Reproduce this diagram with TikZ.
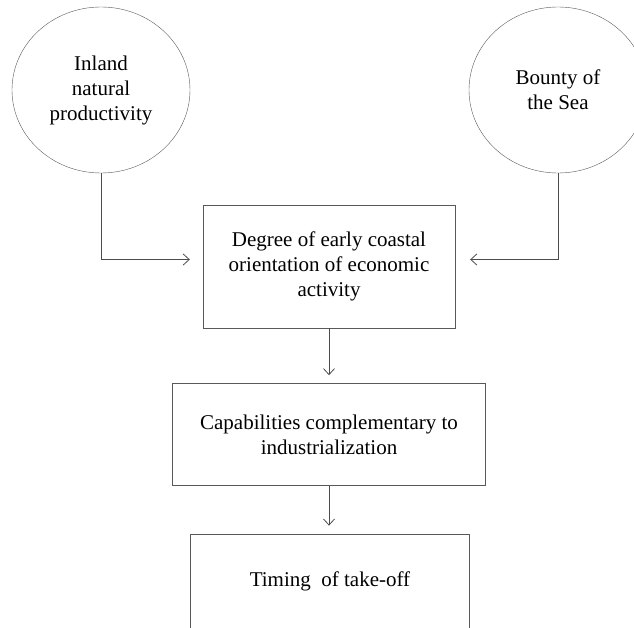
\documentclass[tikz,border=0pt]{standalone}
\usepackage{fontspec}
\setmainfont{Liberation Serif}
\usepackage{tikz}
\usetikzlibrary{arrows.meta,positioning,shapes.geometric}

\begin{document}
\begin{tikzpicture}[x=1pt,y=-1pt,
factor/.style={draw=black!65,ellipse,align=center,minimum width=178pt,minimum height=166pt,inner sep=0pt,font=\fontsize{21}{25}\selectfont},
stage/.style={draw=black!65,align=center,inner sep=0pt,font=\fontsize{21}{25}\selectfont},
flow/.style={draw=black!70,line width=.8pt,-{Straight Barb[length=6pt,width=11pt]}}]
\clip (0,0) rectangle (634,628);
\useasboundingbox (0,0) rectangle (634,628);
\node[factor](inland) at (101,90){Inland\\natural\\productivity};
\node[factor](sea) at (558,90){Bounty of\\the Sea};
\node[stage,minimum width=252pt,minimum height=123pt](coastal) at (329,266.5){Degree of early coastal\\orientation of economic\\activity};
\node[stage,minimum width=313pt,minimum height=102pt,below=55pt of coastal](capab){Capabilities complementary to\\industrialization};
\node[stage,minimum width=279pt,minimum height=95pt,below=48pt of capab,xshift=1pt](takeoff){Timing~ of take-off};
\draw[flow,shorten >=13pt](inland.south)|-([yshift=7pt]coastal.west);
\draw[flow,shorten >=15pt](sea.south)|-([yshift=7pt]coastal.east);
\draw[flow,shorten >=8pt](coastal)--(capab);\draw[flow,shorten >=8pt](capab)--(takeoff.north-|capab.south);
\end{tikzpicture}
\end{document}
